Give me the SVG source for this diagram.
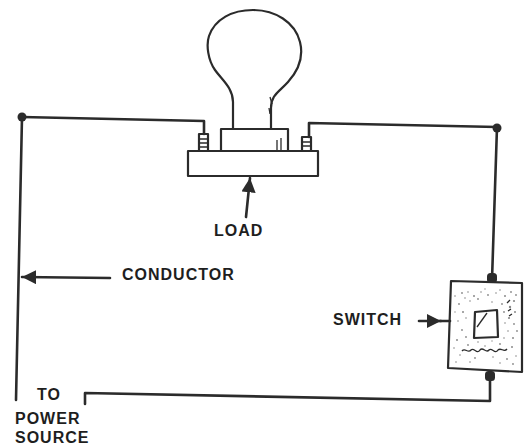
<svg xmlns="http://www.w3.org/2000/svg" width="525" height="447" viewBox="0 0 525 447">
  <style>
    .wire { fill: none; stroke: #2b2b2b; stroke-width: 2.6; stroke-linecap: round; stroke-linejoin: round; }
    .line { fill: none; stroke: #2b2b2b; stroke-width: 2.2; stroke-linejoin: round; }
    .thin { fill: none; stroke: #2b2b2b; stroke-width: 1.3; }
    .dot { fill: #2b2b2b; }
    .speck { fill: #8a8a8a; }
    .label { font-family: "Liberation Sans", Arial, sans-serif; font-weight: bold; font-size: 16px; letter-spacing: 1px; fill: #1e1e1e; }
  </style>
  <defs>
    <marker id="head" viewBox="0 0 10 10" refX="10" refY="5" markerWidth="5.5" markerHeight="5.5" orient="auto">
      <path d="M0,0 L10,5 L0,10 Z" fill="#2b2b2b"/>
    </marker>
  </defs>
  <rect width="525" height="447" fill="#ffffff"/>

  <!-- circuit conductors -->
  <g id="connectors">
    <path class="wire" d="M22,117 L204,121 L204,134"/>
    <path class="wire" d="M309,137 L309,123 L497,127"/>
    <path class="wire" d="M497,127 L492,280"/>
    <path class="wire" d="M490,372 L490,401 L85,393 L85,404"/>
    <path class="wire" d="M22,117 L16,400"/>
    <circle class="dot" cx="22" cy="117" r="4.5"/>
    <circle class="dot" cx="497" cy="128" r="4.5"/>
    <!-- pointer arrows -->
    <path class="wire" d="M110,278 L22,277" marker-end="url(#head)" stroke-width="2"/>
    <path class="wire" d="M246,217 L250,178" marker-end="url(#head)" stroke-width="2"/>
    <path class="wire" d="M419,321 L441,321" marker-end="url(#head)" stroke-width="2"/>
    <path class="wire" d="M440,321 L450,321" stroke-width="2"/>
  </g>

  <!-- lamp on its socket -->
  <g id="load">
    <path class="line" d="M233,129 L233,102 C233,88 222,80 215,70 C208,60 206,45 209,36 C215,19 232,10 253,10 C275,10 295,22 300,42 C304,58 297,72 288,82 C279,92 271,95 271,108 L271,129"/>
    <path class="thin" d="M270,97 L272,104 M269,108 L270,114" stroke-width="1.6"/>
    <rect class="line" x="221" y="129" width="67" height="22"/>
    <path class="thin" d="M277,140 L277,151 M281,138 L281,151"/>
    <rect class="line" x="188" y="151" width="130" height="25"/>
    <!-- screw terminals -->
    <rect class="line" x="199" y="134" width="9" height="17" stroke-width="1.8"/>
    <path class="thin" d="M199,139 L208,139 M199,143 L208,143 M199,147 L208,147"/>
    <rect class="line" x="302" y="137" width="9" height="14" stroke-width="1.8"/>
    <path class="thin" d="M302,142 L311,142 M302,146 L311,146"/>
  </g>

  <!-- wall switch -->
  <g id="switch">
    <rect class="dot" x="487" y="273" width="10" height="10" rx="3.5"/>
    <rect class="dot" x="485" y="371" width="10" height="10" rx="3.5"/>
    <path class="line" d="M451,281 L522,283 L522,372 L448,368 Z" stroke-width="2.6"/>
    <g class="speck">
      <circle cx="462" cy="293" r="0.9"/><circle cx="468" cy="292" r="0.8"/><circle cx="474" cy="296" r="1"/>
      <circle cx="481" cy="292" r="0.8"/><circle cx="488" cy="295" r="0.9"/><circle cx="496" cy="293" r="0.8"/>
      <circle cx="505" cy="296" r="1"/><circle cx="511" cy="292" r="0.9"/><circle cx="514" cy="301" r="1.1"/>
      <circle cx="510" cy="307" r="1.2"/><circle cx="515" cy="312" r="1"/><circle cx="509" cy="318" r="1.1"/>
      <circle cx="514" cy="324" r="0.9"/><circle cx="508" cy="331" r="0.8"/><circle cx="513" cy="338" r="1"/>
      <circle cx="459" cy="304" r="0.9"/><circle cx="463" cy="312" r="1"/><circle cx="458" cy="321" r="0.8"/>
      <circle cx="462" cy="330" r="0.9"/><circle cx="457" cy="340" r="1"/><circle cx="470" cy="301" r="0.8"/>
      <circle cx="492" cy="302" r="0.8"/><circle cx="502" cy="304" r="0.9"/><circle cx="468" cy="345" r="0.9"/>
      <circle cx="485" cy="346" r="0.8"/><circle cx="500" cy="344" r="0.9"/><circle cx="512" cy="347" r="1"/>
      <circle cx="460" cy="355" r="0.8"/><circle cx="475" cy="358" r="0.9"/><circle cx="493" cy="357" r="0.8"/>
      <circle cx="507" cy="359" r="0.9"/><circle cx="516" cy="356" r="0.8"/>
      <circle cx="465" cy="298" r="0.8"/><circle cx="478" cy="299" r="0.9"/><circle cx="485" cy="289" r="0.7"/>
      <circle cx="500" cy="290" r="0.8"/><circle cx="516" cy="295" r="0.9"/><circle cx="455" cy="296" r="0.8"/>
      <circle cx="466" cy="318" r="0.8"/><circle cx="455" cy="312" r="0.7"/><circle cx="466" cy="337" r="0.9"/>
      <circle cx="454" cy="348" r="0.8"/><circle cx="504" cy="312" r="0.9"/><circle cx="505" cy="323" r="0.8"/>
      <circle cx="517" cy="331" r="0.9"/><circle cx="504" cy="338" r="0.8"/><circle cx="478" cy="342" r="0.8"/>
      <circle cx="492" cy="341" r="0.7"/><circle cx="470" cy="362" r="0.8"/><circle cx="500" cy="363" r="0.8"/>
      <circle cx="513" cy="364" r="0.9"/><circle cx="456" cy="362" r="0.8"/>
    </g>
    <path class="thin" d="M462,351 C465,347 468,354 471,350 C474,347 477,355 480,350 C483,346 486,354 489,350 C492,347 495,355 498,350 C501,347 504,353 507,349" stroke="#6e6e6e" stroke-width="1.3"/>
    <path class="thin" d="M507,303 L510,300 M508,311 L511,309 M509,316 L512,314" stroke="#6e6e6e" stroke-width="1.4"/>
    <path class="line" d="M475,312 L497,310 L498,337 L474,338 Z" stroke-width="2.4"/>
    <path class="thin" d="M477,327 L487,313" stroke-width="1.6"/>
  </g>

  <!-- labels -->
  <g id="labels">
    <text class="label" x="214" y="236">LOAD</text>
    <text class="label" x="122" y="280">CONDUCTOR</text>
    <text class="label" x="333" y="325">SWITCH</text>
    <text class="label" x="37" y="400">TO</text>
    <text class="label" x="15" y="424">POWER</text>
    <text class="label" x="15" y="443">SOURCE</text>
  </g>
</svg>
